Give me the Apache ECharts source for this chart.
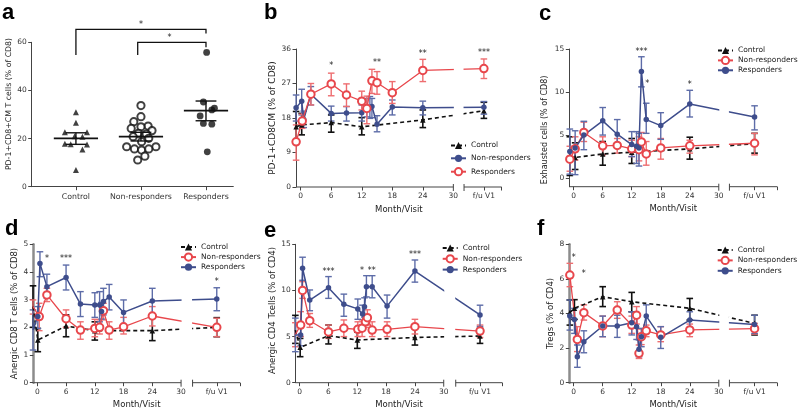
<!DOCTYPE html>
<html><head><meta charset="utf-8">
<script src="https://cdn.jsdelivr.net/npm/echarts@6/dist/echarts.min.js"></script>
<style>html,body{margin:0;padding:0;background:#fff}#c{width:800px;height:414px}</style>
</head><body><div id="c"></div>
<script>
// ================= DATA =================
// Panel a: scatter points per group, [horizontal jitter around the category, value]
const a_categories = ['Control', 'Non-responders', 'Responders'];
const a_yTicks = [0, 20, 40, 60];
const a_control = [[0,30.9],[0,26.6],[-0.17,22.6],[0.17,22.6],[-0.02,21.0],[0.1,20.8],[-0.17,17.8],[-0.08,17.6],[0.17,17.5],[0.1,15.5],[0,6.9]];
const a_nonresp = [[0,33.7],[0,29.1],[-0.11,27.0],[0.11,25.2],[-0.15,24.2],[0,24.9],[0.17,23.3],[-0.04,22.2],[0.08,21.9],[-0.12,20.8],[0.12,20.1],[0.01,18.7],[-0.22,16.6],[0.23,16.6],[-0.1,15.7],[0.01,15.2],[0.12,15.7],[0.06,12.7],[-0.05,11.1]];
const a_resp = [[0.01,55.8],[-0.04,35.2],[0.09,31.9],[0.13,32.6],[-0.09,29.4],[-0.04,26.3],[0.09,26.0],[0.02,14.5]];
// [category index, mean, lower SEM, upper SEM]
const a_summary = [[0,20.1,17.6,22.4],[1,20.8,19.0,22.6],[2,31.6,27.4,35.6]];
// [x from, x to, bracket y, left end y, right end y]
const a_brackets = [[0,2,65.4,54.7,63.7],[0.95,2,60.0,54.7,57.9]];
const a_stars = [[1.0,67.4],[1.44,61.8]];
const a_starText = ['*','*'];

// Line panels: rows = [month or 'fu', mean, lower, upper]
const MONTH_TICKS = [0,6,12,18,24];
const MONTH_LABELS = [0,6,12,18,24,30];
const FU_LABEL = 'f/u V1';

const b_control = [[-0.9,15.7,11.8,19.7],[0.2,16.2,13.6,19.2],[6,16.8,14.3,18.8],[12,15.7,13.6,18.1],[24,17.5,15.5,20.1],['fu',19.9,17.9,22.1]];
const b_nonresp = [[-0.9,20.7,17.2,24.0],[0.2,22.4,18.8,25.5],[0.6,17.6,15.5,19.8],[2,24.2,21.4,26.2],[6,19.2,17.2,21.1],[9,19.3,17.2,21.0],[12,19.4,17.2,21.4],[13,20.5,18.3,23.1],[13.6,20.7,17.9,23.6],[14,21.0,18.1,23.1],[15,16.4,14.4,18.6],[18,20.9,18.8,22.7],[24,20.7,18.8,22.4],['fu',20.8,19.0,22.3]];
const b_resp = [[-0.9,11.8,7.0,16.2],[0.3,17.2,15.3,19.0],[2,24.2,21.4,27.0],[6,26.9,23.8,29.7],[9,24.0,21.0,26.9],[12,22.4,20.1,25.0],[13,20.5,16.5,23.7],[14,27.7,24.4,30.7],[15,27.2,24.2,30.1],[18,24.6,21.8,27.5],[24,30.4,27.5,33.3],['fu',30.9,28.3,33.4]];
const b_stars = [[6,31.7,'*'],[15,32.3,'**'],[24,34.8,'**'],['fu',35.0,'***']];

const c_control = [[-0.8,2.5,0.3,4.8],[0.3,2.4,1.0,4.1],[6,2.8,1.5,4.25],[12,3.0,1.7,4.6],[24,3.4,2.2,4.75],['fu',4.0,2.9,5.2]];
const c_nonresp = [[-0.8,2.2,0.8,3.7],[0.3,3.4,2.1,4.8],[2.1,5.3,4.25,6.5],[6,3.75,2.7,4.8],[9,3.8,2.9,4.6],[12,3.4,2.5,4.4],[13.5,3.3,2.0,4.8],[14,4.2,3.1,5.3],[15,2.8,1.5,4.25],[18,3.5,2.2,4.6],[24,3.75,2.9,4.4],['fu',4.05,2.7,5.2]];
const c_resp = [[-0.8,3.1,0.46,5.7],[0.3,3.5,0.4,5.5],[2.1,5.0,3.3,6.6],[6,6.65,5.0,8.2],[9,5.1,3.7,6.8],[12,3.9,2.5,5.4],[13,3.7,1.7,5.4],[13.5,3.5,1.4,5.2],[14,12.4,10.6,14.1],[15,6.8,5.2,8.7],[18,6.1,4.5,7.6],[24,8.6,7.1,10.2],['fu',7.1,5.6,8.4]];
const c_stars = [[14,14.7,'***'],[15.2,10.9,'*'],[24,10.8,'*']];

const d_control = [[-0.9,2.75,2.0,3.5],[0.1,1.54,1.12,1.96],[6,2.05,1.66,2.45],[12,1.88,1.54,2.2],[24,1.88,1.52,2.39],['fu',2.0,1.66,2.35]];
const d_nonresp = [[-0.9,2.75,2.48,2.99],[0.4,2.39,1.88,2.87],[2,3.17,2.93,3.41],[6,2.31,2.0,2.63],[9,1.9,1.57,2.2],[12,1.96,1.66,2.29],[13,2.0,1.76,2.27],[13.8,2.6,2.27,2.87],[15,1.9,1.57,2.2],[18,2.02,1.76,2.36],[24,2.41,2.05,2.75],['fu',2.0,1.66,2.33]];
const d_resp = [[-0.9,1.9,1.18,2.63],[0.1,2.39,1.96,2.75],[0.55,4.31,3.83,4.73],[2,3.47,3.05,3.92],[6,3.8,3.35,4.25],[9,2.84,2.39,3.29],[12,2.81,2.36,3.25],[13,2.81,2.2,3.29],[13.4,2.57,2.3,2.9],[13.8,2.93,2.45,3.41],[15,3.1,2.63,3.55],[18,2.54,2.08,2.99],[24,2.95,2.48,3.41],['fu',3.02,2.6,3.43]];
const d_stars = [[2,4.47,'*'],[6,4.47,'***'],['fu',3.65,'*']];

const e_control = [[-0.9,5.7,4.26,7.3],[0.1,3.83,2.82,4.8],[6,5.1,4.2,6.25],[12,4.63,3.72,5.5],[24,4.9,4.08,6.07],['fu',5.06,4.26,5.9]];
const e_nonresp = [[-0.9,5.2,3.9,6.5],[0.2,6.25,5.0,7.7],[0.6,10.0,9.14,10.95],[2.1,6.72,6.0,7.5],[6,5.5,4.8,6.25],[9.2,5.9,5.0,6.8],[12.1,5.78,5.0,6.6],[13,5.9,5.0,6.8],[13.7,6.6,6.0,7.3],[14.1,7.05,6.25,7.9],[15.1,5.7,5.0,6.6],[18.2,5.78,5.0,6.6],[24,6.07,5.28,6.87],['fu',5.6,4.9,6.25]];
const e_resp = [[-0.9,5.17,3.36,7.0],[0.2,5.17,4.0,6.3],[0.6,12.4,11.1,13.6],[2.1,8.96,7.8,10.05],[6,10.3,9.14,11.5],[9.2,8.5,7.2,9.6],[12.1,8.0,6.87,9.07],[13.1,7.45,6.3,8.4],[13.5,8.24,7.1,9.2],[13.9,10.4,9.3,11.6],[15.1,10.4,9.2,11.6],[18.2,8.3,7.0,9.5],[24,12.1,10.9,13.3],['fu',7.34,6.1,8.4]];
const e_stars = [[6,12.0,'***'],[13,12.1,'*'],[15,12.1,'**'],[24,13.8,'***']];

const f_control = [[-0.8,4.05,3.33,4.78],[0.15,4.3,3.66,4.8],[6,4.97,4.4,5.55],[12,4.68,4.1,5.22],[24,4.3,3.62,4.87],['fu',3.43,2.76,3.9]];
const f_nonresp = [[-0.8,6.22,5.55,6.9],[0.75,2.5,1.8,3.24],[2.1,4.05,3.62,4.5],[6,3.28,2.66,3.85],[9,4.2,3.72,4.68],[12,3.33,2.85,3.85],[13,3.9,3.39,4.4],[13.5,1.7,1.4,2.18],[14,2.66,2.2,3.1],[15,3.0,2.66,3.33],[18,2.76,2.37,3.24],[24,3.05,2.66,3.39],['fu',3.12,2.81,3.43]];
const f_resp = [[-0.8,3.85,3.04,4.78],[0.15,3.66,2.85,4.3],[0.75,1.5,0.89,2.18],[2.1,2.37,1.73,3.0],[6,3.28,2.66,3.85],[9,3.28,2.62,3.9],[12,3.47,2.76,4.1],[13,3.24,2.5,3.9],[13.5,1.93,1.5,2.47],[14,2.66,2.08,3.14],[15,3.85,3.14,4.5],[18,2.62,1.98,3.24],[24,3.62,3.04,4.1],['fu',3.37,2.85,3.9]];
const f_stars = [[0,7.24,'*'],[2.1,6.3,'*']];

// ================= STYLE / LAYOUT =================
const FONT = 'DejaVu Sans';
const RED = '#e8474c', RED_ERR = '#ee6d70', BLUE = '#3e4d8c', BLUE_ERR = '#5d6ca8', BLACK = '#111';
const STY = {
  ctrl: {color: BLACK, err: BLACK, errW: 1.6, symbol: 'triangle', size: 5.5, lw: 1.6, lt: [4, 3]},
  blue: {color: BLUE, err: BLUE_ERR, errW: 1.4, symbol: 'circle', size: 5.5, lw: 1.5, lt: 'solid'},
  red:  {color: RED, err: RED_ERR, errW: 1.4, symbol: 'emptyCircle', size: 7.5, lw: 1.3, lt: 'solid'}
};

const panels = [
  {id:'b', grid:{left:296, top:49, width:205.7, height:138}, x:[-0.92,39.5], fu:36, brk:32.1, y:[0,36], yTicks:[0,9,18,27,36],
   yName:'PD-1+CD8CM (% of CD8)', nameGap:13.5, nameSize:9, namePad:0, thick:false,
   groups:[['Control',b_control,'ctrl'],['Non-responders',b_nonresp,'blue'],['Responders',b_resp,'red']], stars:b_stars,
   legend:{left:450, top:141.5, gap:4.8}},
  {id:'c', grid:{left:569.3, top:49, width:208, height:137.7}, x:[-0.91,42.1], fu:37.4, brk:32.2, y:[-1,15], yTicks:[0,5,10,15],
   yName:'Exhausted cells (% of CD8)', nameGap:20, nameSize:8, namePad:[0,24,0,0], thick:false,
   groups:[['Control',c_control,'ctrl'],['Non-responders',c_nonresp,'red'],['Responders',c_resp,'blue']], stars:c_stars,
   legend:{left:717, top:46.5, gap:1.3}},
  {id:'d', grid:{left:33.3, top:244.3, width:206.7, height:138.4}, x:[-0.84,42.3], fu:37.45, brk:32.4, y:[0,5], yTicks:[0,1,2,3,4,5],
   yName:'Anergic CD8 T cells (% of CD8)', nameGap:14, nameSize:8.5, namePad:0, thick:true,
   groups:[['Control',d_control,'ctrl'],['Non-responders',d_nonresp,'red'],['Responders',d_resp,'blue']], stars:d_stars,
   legend:{left:180, top:243, gap:1.5}},
  {id:'e', grid:{left:295.7, top:244.3, width:206.6, height:138.4}, x:[-0.83,42.2], fu:37.56, brk:32.5, y:[0,15], yTicks:[0,5,10,15],
   yName:'Anergic CD4 Tcells (% of CD4)', nameGap:14.5, nameSize:8.5, namePad:[0,0,0,6], thick:false,
   groups:[['Control',e_control,'ctrl'],['Non-responders',e_nonresp,'red'],['Responders',e_resp,'blue']], stars:e_stars,
   legend:{left:441.7, top:244, gap:2.2}},
  {id:'f', grid:{left:569.3, top:244.3, width:208, height:138.4}, x:[-0.91,42.1], fu:37.4, brk:32.2, y:[0,8], yTicks:[0,2,4,6,8],
   yName:'Tregs (% of CD4)', nameGap:13, nameSize:8.5, namePad:0, thick:true,
   groups:[['Control',f_control,'ctrl'],['Non-responders',f_nonresp,'red'],['Responders',f_resp,'blue']], stars:f_stars,
   legend:{left:716.7, top:246, gap:1.8}}
];

// ================= BUILD =================
function errRender(color, lw, cap) {
  return function (params, api) {
    const x = api.value(0), lo = api.value(1), hi = api.value(2);
    const p = api.coord([x, lo]), q = api.coord([x, hi]);
    const st = {stroke: color, lineWidth: lw};
    return {type: 'group', children: [
      {type: 'line', shape: {x1: p[0], y1: p[1], x2: q[0], y2: q[1]}, style: st},
      {type: 'line', shape: {x1: p[0] - cap, y1: p[1], x2: p[0] + cap, y2: p[1]}, style: st},
      {type: 'line', shape: {x1: q[0] - cap, y1: q[1], x2: q[0] + cap, y2: q[1]}, style: st}
    ]};
  };
}
const axisTxt = {fontSize: 7.5, color: '#333', fontFamily: FONT};
const atCat = (rows, ci) => rows.map(r => [ci + r[0], r[1]]);

const grids = [{left:31.7, top:42.3, width:201.6, height:144.4}];
const xAxes = [{
  gridIndex:0, type:'value', min:-0.68, max:2.42,
  axisLine:{show:true, onZero:false, lineStyle:{color:'#444', width:1}},
  axisTick:{show:true, length:3.5, customValues:[0,1,2], lineStyle:{color:'#444'}},
  axisLabel:Object.assign({customValues:[0,1,2], margin:6, formatter:v => a_categories[Math.round(v)]}, axisTxt, {fontSize:7.8}),
  splitLine:{show:false}
}];
const yAxes = [{
  gridIndex:0, type:'value', min:0, max:60, name:'PD-1+CD8+CM T cells (% of CD8)', nameLocation:'middle', nameGap:16,
  nameTextStyle:{fontSize:7.8, color:'#222', fontFamily:FONT, padding:[0,0,0,21]},
  axisLine:{show:true, onZero:false, lineStyle:{color:'#444', width:1}},
  axisTick:{show:true, length:3.5, customValues:a_yTicks, lineStyle:{color:'#444'}},
  axisLabel:Object.assign({customValues:a_yTicks, margin:5}, axisTxt),
  splitLine:{show:false}
}];
const series = [
  {type:'scatter', xAxisIndex:0, yAxisIndex:0, data:atCat(a_control, 0), symbol:'triangle', symbolSize:6, itemStyle:{color:BLACK}, z:3},
  {type:'scatter', xAxisIndex:0, yAxisIndex:0, data:atCat(a_nonresp, 1), symbol:'emptyCircle', symbolSize:7.2, itemStyle:{color:BLACK, borderColor:BLACK, borderWidth:1.8}, z:3},
  {type:'scatter', xAxisIndex:0, yAxisIndex:0, data:atCat(a_resp, 2), symbol:'circle', symbolSize:6.8, itemStyle:{color:BLACK}, z:3},
  {type:'custom', xAxisIndex:0, yAxisIndex:0, data:a_summary, clip:false, z:4, silent:true,
   renderItem:function (params, api) {
     const c = api.value(0), m = api.value(1), lo = api.value(2), hi = api.value(3);
     const m1 = api.coord([c - 0.34, m]), m2 = api.coord([c + 0.34, m]);
     const l1 = api.coord([c - 0.16, lo]), l2 = api.coord([c + 0.16, lo]);
     const h1 = api.coord([c - 0.16, hi]), h2 = api.coord([c + 0.16, hi]);
     const st = {stroke:BLACK, lineWidth:1.4};
     return {type:'group', children:[
       {type:'line', shape:{x1:m1[0], y1:m1[1], x2:m2[0], y2:m2[1]}, style:{stroke:BLACK, lineWidth:1.6}},
       {type:'line', shape:{x1:(l1[0]+l2[0])/2, y1:l1[1], x2:(h1[0]+h2[0])/2, y2:h1[1]}, style:st},
       {type:'line', shape:{x1:l1[0], y1:l1[1], x2:l2[0], y2:l2[1]}, style:st},
       {type:'line', shape:{x1:h1[0], y1:h1[1], x2:h2[0], y2:h2[1]}, style:st}
     ]};
   }},
  {type:'custom', xAxisIndex:0, yAxisIndex:0, data:a_brackets, clip:false, z:4, silent:true,
   renderItem:function (params, api) {
     const x1 = api.value(0), x2 = api.value(1), y = api.value(2), yl = api.value(3), yr = api.value(4);
     return {type:'polyline', shape:{points:[api.coord([x1, yl]), api.coord([x1, y]), api.coord([x2, y]), api.coord([x2, yr])]},
             style:{stroke:BLACK, lineWidth:1.3, fill:null}};
   }},
  {type:'custom', xAxisIndex:0, yAxisIndex:0, data:a_stars, clip:false, z:4, silent:true,
   renderItem:function (params, api) {
     const p = api.coord([api.value(0), api.value(1)]);
     return {type:'text', x:p[0], y:p[1], style:{text:a_starText[params.dataIndex], fill:'#222', fontSize:8, fontFamily:FONT, align:'center', verticalAlign:'middle'}};
   }}
];
const legends = [];

panels.forEach((p, k) => {
  const i = k + 1;
  const toX = v => (v === 'fu' ? p.fu : v);
  grids.push(p.grid);
  xAxes.push({
    gridIndex:i, type:'value', min:p.x[0], max:p.x[1],
    name:'Month/Visit', nameLocation:'middle', nameGap:18, nameTextStyle:{fontSize:8.5, color:'#222', fontFamily:FONT},
    axisLine:{show:false, onZero:false},
    axisTick:{show:true, length:3.5, customValues:MONTH_TICKS.concat([p.fu, p.x[1]]), lineStyle:{color:'#444', width:1}},
    axisLabel:Object.assign({customValues:MONTH_LABELS.concat([p.fu]), margin:5,
      formatter:v => (Math.abs(v - p.fu) < 1e-6 ? FU_LABEL : String(v))}, axisTxt),
    splitLine:{show:false}
  });
  yAxes.push({
    gridIndex:i, type:'value', min:p.y[0], max:p.y[1], name:p.yName, nameLocation:'middle', nameGap:p.nameGap,
    nameTextStyle:{fontSize:p.nameSize, color:'#222', fontFamily:FONT, padding:p.namePad},
    axisLine:{show:true, onZero:false, lineStyle:{color:p.thick ? '#8c8c8c' : '#444', width:p.thick ? 2.5 : 1}},
    axisTick:{show:true, length:3.5, customValues:p.yTicks, lineStyle:{color:'#444'}},
    axisLabel:Object.assign({customValues:p.yTicks, margin:5}, axisTxt),
    splitLine:{show:false}
  });
  const names = [];
  p.groups.forEach(([name, rows, kind]) => {
    const s = STY[kind];
    series.push({type:'custom', xAxisIndex:i, yAxisIndex:i, z:2, silent:true, clip:false,
      data:rows.map(r => [toX(r[0]), r[2], r[3]]), renderItem:errRender(s.err, s.errW, 3.3)});
  });
  p.groups.forEach(([name, rows, kind]) => {
    const s = STY[kind];
    const nm = name + '|' + p.id;
    names.push(nm);
    series.push({type:'line', name:nm, xAxisIndex:i, yAxisIndex:i, z:3,
      data:rows.map(r => [toX(r[0]), r[1]]),
      symbol:s.symbol, symbolSize:s.size, showSymbol:true,
      itemStyle:{color:s.color, borderColor:s.color, borderWidth:kind === 'red' ? 1.6 : 0},
      lineStyle:{color:s.color, width:s.lw, type:s.lt},
      emphasis:{disabled:true}});
  });
  series.push({type:'custom', xAxisIndex:i, yAxisIndex:i, z:4, silent:true, clip:false, data:[[p.x[0], p.y[0]]],
    renderItem:function (params, api) {
      const a = api.coord([30, p.y[1]]), b = api.coord([p.brk, p.y[0]]);
      return {type:'rect', shape:{x:a[0] + 0.5, y:a[1], width:b[0] - a[0] - 1, height:b[1] - a[1] - 1}, style:{fill:'#fff'}};
    }});
  series.push({type:'custom', xAxisIndex:i, yAxisIndex:i, z:5, silent:true, clip:false, data:[[p.x[0], p.y[0]]],
    renderItem:function (params, api) {
      const p0 = api.coord([p.x[0], p.y[0]]), p30 = api.coord([30, p.y[0]]), pb = api.coord([p.brk, p.y[0]]), p1 = api.coord([p.x[1], p.y[0]]);
      const y = p0[1], st = {stroke:'#444', lineWidth:1};
      return {type:'group', children:[
        {type:'line', shape:{x1:p0[0], y1:y, x2:p30[0], y2:y}, style:st},
        {type:'line', shape:{x1:pb[0], y1:y, x2:p1[0], y2:y}, style:st},
        {type:'line', shape:{x1:p30[0], y1:y - 3, x2:p30[0], y2:y + 4}, style:st},
        {type:'line', shape:{x1:pb[0], y1:y - 3, x2:pb[0], y2:y + 4}, style:st}
      ]};
    }});
  series.push({type:'custom', xAxisIndex:i, yAxisIndex:i, z:5, silent:true, clip:false,
    data:p.stars.map(r => [toX(r[0]), r[1]]),
    renderItem:function (params, api) {
      const q = api.coord([api.value(0), api.value(1)]);
      return {type:'text', x:q[0], y:q[1], style:{text:p.stars[params.dataIndex][2], fill:'#222', fontSize:8, fontFamily:FONT, align:'center', verticalAlign:'middle'}};
    }});
  legends.push({orient:'vertical', left:p.legend.left, top:p.legend.top, itemWidth:15, itemHeight:9, itemGap:p.legend.gap,
    padding:0, z:6, selectedMode:false, data:names, formatter:n => n.split('|')[0],
    textStyle:{fontSize:7.5, color:'#222', fontFamily:FONT}});
});

const letterStyle = {fontSize:22, fontWeight:'bold', fontFamily:'Liberation Sans', color:'#000'};
const titles = [['a',2,2],['b',264,2],['c',539,3],['d',5,218],['e',264,220],['f',537,218]]
  .map(([t, l, tp]) => ({text:t, left:l, top:tp, padding:0, textStyle:letterStyle}));

const chart = echarts.init(document.getElementById('c'), null, {renderer:'canvas'});
chart.setOption({
  animation:false, backgroundColor:'#fff',
  title:titles, grid:grids, xAxis:xAxes, yAxis:yAxes, legend:legends, series:series
});
</script>
</body></html>
